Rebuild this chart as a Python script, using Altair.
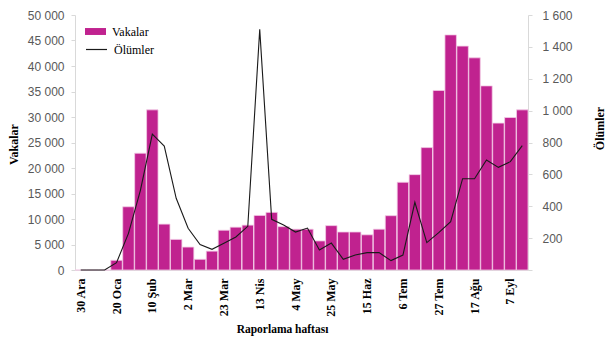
import altair as alt
import pandas as pd

weeks = ["30 Ara", "6 Oca", "13 Oca", "20 Oca", "27 Oca", "3 Şub", "10 Şub", "17 Şub", "24 Şub",
         "2 Mar", "9 Mar", "16 Mar", "23 Mar", "30 Mar", "6 Nis", "13 Nis", "20 Nis", "27 Nis",
         "4 May", "11 May", "18 May", "25 May", "1 Haz", "8 Haz", "15 Haz", "22 Haz", "29 Haz",
         "6 Tem", "13 Tem", "20 Tem", "27 Tem", "3 Ağu", "10 Ağu", "17 Ağu", "24 Ağu", "31 Ağu",
         "7 Eyl", "14 Eyl"]
tick_labels = ["30 Ara", "20 Oca", "10 Şub", "2 Mar", "23 Mar", "13 Nis", "4 May", "25 May",
               "15 Haz", "6 Tem", "27 Tem", "17 Ağu", "7 Eyl"]
cases = [0, 0, 0, 1900, 12400, 22900, 31400, 9000, 6000, 4500, 2100, 3700, 7800, 8400, 8800,
         10700, 11300, 8500, 8000, 8000, 5700, 8700, 7450, 7450, 6900, 8000, 10650, 17200, 18700,
         24000, 35200, 46100, 43900, 41600, 36100, 28800, 29900, 31400]
deaths = [0, 0, 0, 46, 230, 500, 853, 778, 450, 262, 160, 130, 168, 207, 274, 1510, 318, 282,
          238, 263, 125, 169, 67, 94, 109, 109, 59, 94, 425, 172, 234, 303, 573, 573, 690, 644,
          680, 780]

df = pd.DataFrame({"week": weeks, "cases": cases, "deaths": deaths})
df["s1"] = "Vakalar"
df["s2"] = "Ölümler"

serif = "Liberation Serif"
sans = "Liberation Sans"

x_enc = alt.X("week:N", sort=weeks,
              scale=alt.Scale(paddingInner=0.04, paddingOuter=0),
              axis=alt.Axis(values=tick_labels, labelAngle=-90, labelFont=serif, labelFontSize=12,
                            labelFontWeight="bold", labelColor="black", ticks=False, tickSize=0,
                            labelPadding=8, domainColor="#D9D9D9", grid=False,
                            title="Raporlama haftası", titleFont=serif, titleFontSize=11.5,
                            titleFontWeight="bold", titleColor="black", titleX=207, titleY=59,
                            titleAlign="center", titleBaseline="middle"))

bars = alt.Chart(df).mark_bar(stroke="#F3CBE6", strokeWidth=0.8).encode(
    x=x_enc,
    y=alt.Y("cases:Q", scale=alt.Scale(domain=[0, 50000], nice=False),
            axis=alt.Axis(orient="left", values=list(range(0, 50001, 5000)),
                          labelExpr="join(split(format(datum.value, ','), ','), ' ')",
                          labelFont=sans, labelFontSize=12, labelColor="#595959",
                          labelPadding=7, tickSize=4, tickColor="#D9D9D9",
                          domainColor="#D9D9D9", grid=False,
                          title="Vakalar", titleFont=serif, titleFontSize=12,
                          titleFontWeight="bold", titleColor="black", titleAngle=270,
                          titleX=-62, titleY=129, titleAlign="center", titleBaseline="middle")),
    fill=alt.Fill("s1:N", scale=alt.Scale(domain=["Vakalar"], range=["#C0228F"]),
                  legend=alt.Legend(title=None, orient="none", legendX=10, legendY=6,
                                    symbolType="M-1,-0.33H1V0.33H-1Z", symbolSize=441,
                                    symbolStrokeWidth=0, labelFont=serif, labelFontSize=12,
                                    labelColor="black", labelOffset=6, padding=0))
)

line = alt.Chart(df).mark_line(strokeWidth=1.1).encode(
    x=alt.X("week:N", sort=weeks),
    y=alt.Y("deaths:Q", scale=alt.Scale(domain=[0, 1600], nice=False),
            axis=alt.Axis(orient="right", values=list(range(0, 1601, 200)),
                          labelExpr="datum.value == 0 ? '' : join(split(format(datum.value, ','), ','), ' ')",
                          labelFont=sans, labelFontSize=12, labelColor="#595959",
                          labelPadding=10, tickSize=4, tickColor="#D9D9D9",
                          domainColor="#D9D9D9", grid=False,
                          title="Ölümler", titleFont=serif, titleFontSize=12,
                          titleFontWeight="bold", titleColor="black", titleAngle=270,
                          titleX=71, titleY=113, titleAlign="center", titleBaseline="middle")),
    stroke=alt.Stroke("s2:N", scale=alt.Scale(domain=["Ölümler"], range=["#1A1A1A"]),
                      legend=alt.Legend(title=None, orient="none", legendX=10, legendY=23,
                                        symbolType="stroke", symbolSize=441,
                                        symbolStrokeWidth=1.2, labelFont=serif, labelFontSize=12,
                                        labelColor="black", labelOffset=6, padding=0))
)

chart = alt.layer(bars, line).resolve_scale(y="independent").properties(
    width=453, height=255,
    padding={"left": 75, "top": 15, "right": 77, "bottom": 71},
    autosize=alt.AutoSizeParams(type="none"),
    background="white"
).configure_view(stroke=None)

chart.save("out.html", embed_options={"renderer": "svg", "actions": False})
